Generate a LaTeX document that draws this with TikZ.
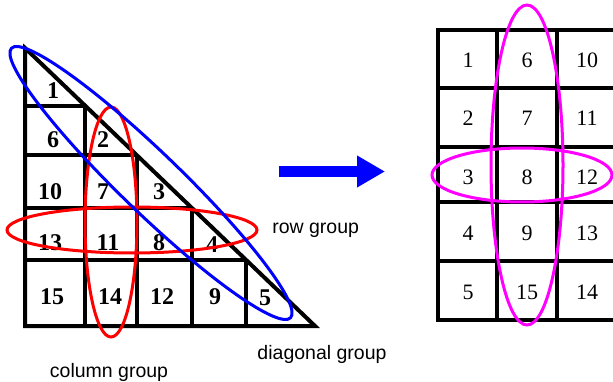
\documentclass[tikz,border=0pt]{standalone}
\usepackage{fontspec}
\setmainfont{Liberation Serif}
\newfontfamily\labelfont{Liberation Sans}
\usetikzlibrary{arrows.meta}
\definecolor{ringpink}{RGB}{255,0,255}
\tikzset{
	lnum/.style={font=\fontsize{24}{24}\selectfont\bfseries},
	rnum/.style={font=\fontsize{22}{22}\selectfont},
	grouplbl/.style={font=\labelfont\fontsize{19.5}{22}\selectfont},
	ring/.style={line width=3pt},
}
\begin{document}
\begin{tikzpicture}[x=1pt,y=-1pt,line width=4pt]
	\useasboundingbox (0,0) rectangle (613,382);
	\clip (0,0) rectangle (613,382);
	%%%%%%%% triangle
	\draw[line join=miter] (25,48) -- (25,326) -- (315,326) -- cycle;
	\foreach \y/\x in {106/85,155/137,208/192,260/246}{
		\draw (25,\y) -- (\x,\y);
		\draw (\x,\y) -- (\x,326);
	}
	\foreach \n/\x/\y in {1/53/91,6/53/140,2/103/140,10/50/192,7/103/192,3/159/192,
		13/50/243,11/108/243,8/159/243,4/212/245,15/52/297,14/110/297,12/162/297,9/215/297,5/265/298}
		\node[lnum] (l\n) at (\x,\y) {\n};
	%%%%%%%% square
	\draw (438,30) rectangle (640,320);
	\foreach \x in {497,557} \draw (\x,30) -- (\x,320);
	\foreach \y in {88,147,202,261} \draw (438,\y) -- (640,\y);
	\foreach \n/\x/\y in {1/468/60,2/468/118,3/468/177,4/468/233,5/468/292,
		6/527/60,7/527/118,8/527/177,9/527/233,15/527/292,
		10/587/60,11/587/118,12/587/177,13/587/233,14/587/292}
		\node[rnum] (r\n) at (\x,\y) {\n};
	%%%%%%%% groups
	\draw[ring,red] (132,230) ellipse [x radius=125pt,y radius=23pt];
	\draw[ring,red] (111,222) ellipse [x radius=26pt,y radius=115pt];
	\draw[ring,blue,rotate around={-44:(151,183)}] (151,183) ellipse [x radius=194pt,y radius=30pt];
	\draw[ring,ringpink] (527,165) ellipse [x radius=36pt,y radius=160pt];
	\draw[ring,ringpink] (522,175) ellipse [x radius=90pt,y radius=27pt];
	%%%%%%%% arrow
	\coordinate (arrowtail) at (279,171.5);
	\coordinate (arrowtip) at (385,171.5);
	\draw[blue,line width=11pt,-{Triangle[length=28pt,width=30pt]}] (arrowtail) -- (arrowtip);
	\node[grouplbl,anchor=west] (rowlbl) at (267,230) {row group};
	\node[grouplbl] (collbl) at (109,372) {column group};
	\node[grouplbl] (diaglbl) at (322,354) {diagonal group};
\end{tikzpicture}
\end{document}
